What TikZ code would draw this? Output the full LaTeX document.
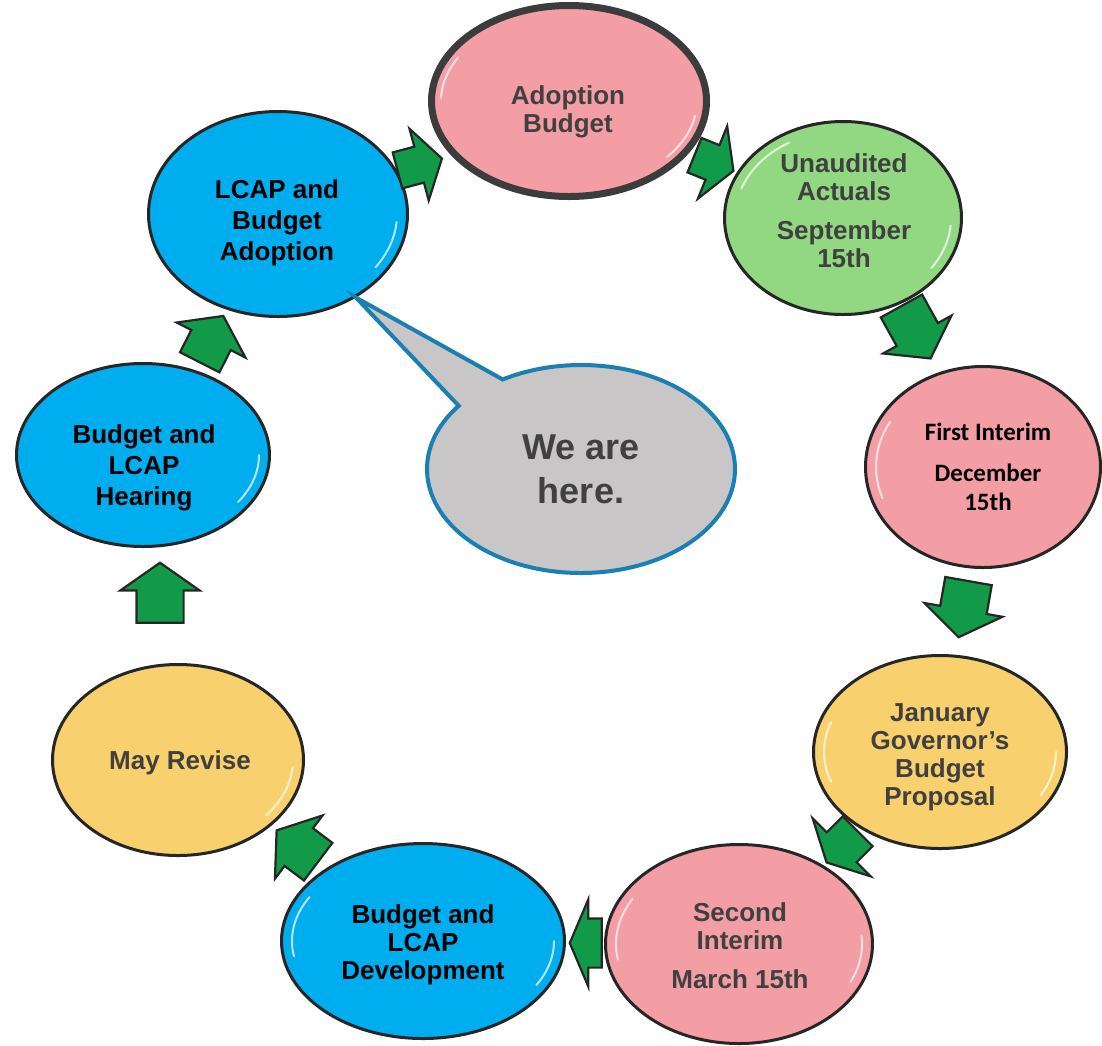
\documentclass[tikz,border=0pt]{standalone}
\usepackage{fontspec}
\setmainfont{Liberation Sans}
\newfontfamily\calibfont{Carlito}
\usetikzlibrary{shapes.arrows,shapes.callouts,shapes.geometric}
\definecolor{pinkc}{HTML}{F39DA5}
\definecolor{bluec}{HTML}{00AEEF}
\definecolor{greenc}{HTML}{92D882}
\definecolor{yellowc}{HTML}{F9D06E}
\definecolor{grayc}{HTML}{C8C6C7}
\definecolor{calloutb}{HTML}{1A7FB2}
\definecolor{txtgray}{HTML}{404040}
\definecolor{arrowg}{HTML}{119B48}
\definecolor{edgec}{HTML}{262626}
\newcommand\glossarc[6]{%
  \draw[white, opacity=.7, line width=2pt, line cap=round]
    plot[domain=#5:#6, samples=30] ({#1+#3*cos(\x)},{#2-#4*sin(\x)});}
\begin{document}
\begin{tikzpicture}[x=1pt,y=-1pt,
  stage/.style={ellipse, draw=edgec, line width=3pt, inner sep=0pt},
  lbl/.style={align=center, inner sep=0pt, font=\bfseries\fontsize{26}{28}\selectfont},
  lblwide/.style={align=center, inner sep=0pt, font=\bfseries\fontsize{26}{31}\selectfont},
  garrow/.style n args={2}{single arrow, draw=edgec, fill=arrowg, line width=2.2pt,
    inner xsep=0pt, inner ysep={0.5*#1}, single arrow head extend={0.5*(#2-#1)},
    minimum width=#2, single arrow tip angle=110},
]
\useasboundingbox (0,0) rectangle (1102,1045);

% stages
\node[stage, fill=pinkc, line width=7pt, draw=edgec!90, minimum width=275pt, minimum height=191pt] (adopt) at (569,101) {};
\node[stage, fill=greenc, minimum width=237pt, minimum height=193pt] (unaud) at (843,218) {};
\node[stage, fill=pinkc, minimum width=235pt, minimum height=201pt] (first) at (983,467) {};
\node[stage, fill=yellowc, minimum width=253pt, minimum height=193pt] (jan) at (940,752) {};
\node[stage, fill=pinkc, minimum width=267pt, minimum height=199pt] (second) at (739,944) {};
\node[stage, fill=bluec, minimum width=283pt, minimum height=195pt] (dev) at (423,941) {};
\node[stage, fill=yellowc, minimum width=251pt, minimum height=191pt] (may) at (178,760) {};
\node[stage, fill=bluec, minimum width=253pt, minimum height=183pt] (hear) at (143,455) {};
\node[stage, fill=bluec, minimum width=259pt, minimum height=205pt] (lcap) at (278,214) {};

% gloss highlights
\glossarc{569}{101}{128}{87}{150}{178}
\glossarc{569}{101}{128}{87}{-40}{-10}
\glossarc{843}{218}{108}{87}{120}{160}
\glossarc{843}{218}{108}{87}{-35}{-5}
\glossarc{983}{467}{107}{91}{150}{200}
\glossarc{940}{752}{116}{87}{160}{200}
\glossarc{940}{752}{116}{87}{-30}{0}
\glossarc{739}{944}{123}{90}{150}{190}
\glossarc{739}{944}{123}{90}{-25}{5}
\glossarc{423}{941}{131}{88}{150}{190}
\glossarc{423}{941}{131}{88}{-30}{0}
\glossarc{178}{760}{115}{86}{-40}{-5}
\glossarc{143}{455}{116}{82}{-35}{0}
\glossarc{278}{214}{119}{93}{-35}{-5}

% arrows
\node[garrow={35pt}{72pt}, rotate=15, minimum height=46pt, single arrow tip angle=115] (a1) at (414,166) {};
\node[garrow={35pt}{76pt}, rotate=-22, minimum height=42pt, single arrow tip angle=120] (a2) at (709,161) {};
\node[garrow={45pt}{76pt}, rotate=-61, minimum height=60pt] (a3) at (912,325) {};
\node[garrow={45pt}{77pt}, rotate=-100, minimum height=57pt] (a4) at (965,601) {};
\node[garrow={40pt}{80pt}, rotate=-135, minimum height=44pt, single arrow tip angle=125] (a5) at (846,843) {};
\node[garrow={47pt}{85pt}, rotate=180, minimum height=32pt, single arrow tip angle=134] (a6) at (591,943) {};
\node[garrow={45pt}{77pt}, rotate=143, minimum height=52pt] (a7) at (304,851) {};
\node[garrow={45pt}{77pt}, rotate=90, minimum height=60pt] (a8) at (160,601) {};
\node[garrow={42pt}{75pt}, rotate=63, minimum height=52pt] (a9) at (208,346) {};

% labels
\node[lbl, text=txtgray] (tadopt) at (568,112) {Adoption\\Budget};
\node[lbl, text=txtgray] (tunaud) at (844,211) {Unaudited\\Actuals\\[11pt]September\\15th};
\node[align=center, inner sep=0pt, font=\calibfont\bfseries\fontsize{25}{29}\selectfont, text=black] (tfirst) at (988,467) {First Interim\\[12pt]December\\15th};
\node[lbl, text=txtgray] (tjan) at (940,757) {January\\Governor’s\\Budget\\Proposal};
\node[lbl, text=txtgray] (tsecond) at (740,946) {Second\\Interim\\[11pt]March 15th};
\node[lbl, text=black] (tdev) at (423,945) {Budget and\\LCAP\\Development};
\node[lbl, text=txtgray] (tmay) at (180,763) {May Revise};
\node[lblwide, text=black] (thear) at (144,468) {Budget and\\LCAP\\Hearing};
\node[lblwide, text=black] (tlcap) at (277,223) {LCAP and\\Budget\\Adoption};

% callout
\node[ellipse callout, draw=calloutb, fill=grayc, line width=4pt,
  minimum width=308pt, minimum height=208pt, inner sep=0pt,
  callout absolute pointer={(lcap.-47)}, callout pointer arc=22,
  text=txtgray, align=center, font=\bfseries\fontsize{36}{44}\selectfont] (here) at (581,469) {We are\\here.};
\end{tikzpicture}
\end{document}
